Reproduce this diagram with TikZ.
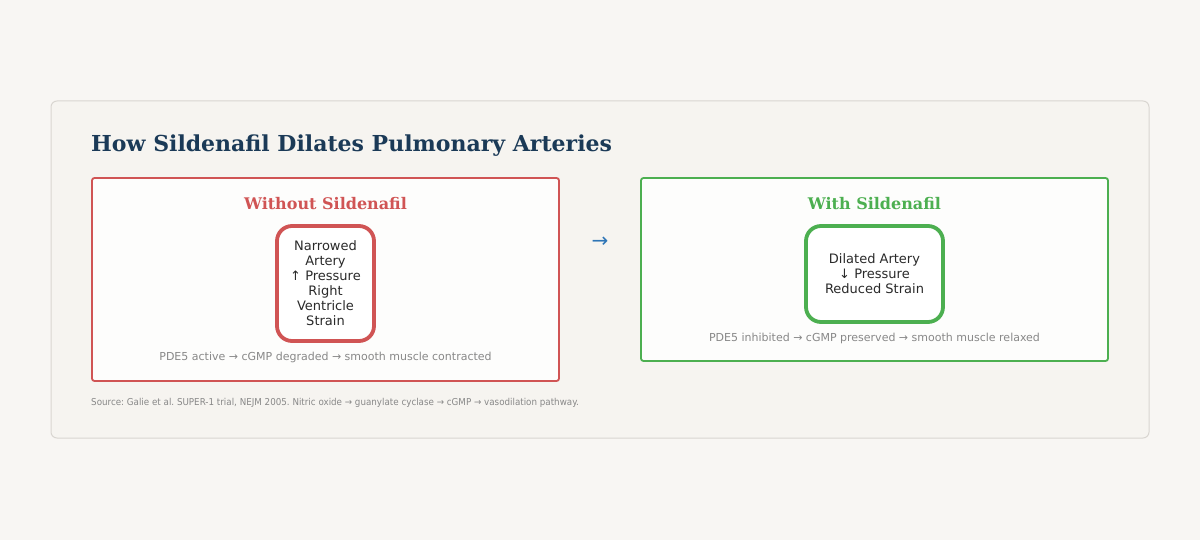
\documentclass[tikz,border=0pt]{standalone}
\usepackage{fontspec}
\setmainfont{DejaVu Sans}
\newfontfamily\titlefont{DejaVu Serif}
\newfontfamily\condfont[FakeStretch=0.92]{DejaVu Sans}
\definecolor{bgc}{HTML}{F8F6F3}
\definecolor{cardc}{HTML}{F6F4F0}
\definecolor{cardline}{HTML}{D9D6D1}
\definecolor{redc}{HTML}{D05454}
\definecolor{greenc}{HTML}{4CAF50}
\definecolor{navy}{HTML}{1B3A57}
\definecolor{txt}{HTML}{2A2A2A}
\definecolor{grayt}{HTML}{888888}
\definecolor{bluec}{HTML}{2E75B6}
\tikzset{
  panel/.style={line width=1.8pt, fill=white, fill opacity=0.85, draw opacity=1, rounded corners=2.5pt},
  innerbox/.style={line width=3.8pt, fill=white, rounded corners=15pt},
  heading/.style={font=\titlefont\bfseries\fontsize{16}{19}\selectfont, anchor=center},
  bodytxt/.style={font=\fontsize{13}{15}\selectfont, text=txt, align=center, anchor=center},
  captxt/.style={font=\fontsize{11}{13}\selectfont, text=grayt, anchor=center},
}
\begin{document}
\begin{tikzpicture}[x=1pt,y=-1pt]
\useasboundingbox (0,0) rectangle (1200,540);
\fill[bgc] (0,0) rectangle (1200,540);
\draw[cardline, fill=cardc, line width=1pt, rounded corners=6pt] (51,101) rectangle (1149,438);
\node[font=\titlefont\bfseries\fontsize{22}{26}\selectfont, text=navy, anchor=base west, inner sep=0pt] (title) at (91,152) {How Sildenafil Dilates Pulmonary Arteries};
% left panel
\draw[panel, draw=redc] (92,178) rectangle (559,381);
\node (lpanel) at (325.5,279.5) [minimum width=467pt, minimum height=203pt] {};
\node[heading, text=redc] (lhead) at (325.5,204) {Without Sildenafil};
\draw[innerbox, draw=redc] (277,226) rectangle (374,341);
\node (lbox) at (325.5,283.5) [minimum width=97pt, minimum height=115pt] {};
\node[bodytxt] (ltext) at (325.5,283.5) {Narrowed\\Artery\\↑ Pressure\\Right\\Ventricle\\Strain};
\node[captxt] (lcap) at (325.5,357) {PDE5 active → cGMP degraded → smooth muscle contracted};
% arrow
\node[font=\fontsize{20}{20}\selectfont, text=bluec] (arr) at (600,242.5) {→};
% right panel
\draw[panel, draw=greenc] (641,178) rectangle (1108,361);
\node (rpanel) at (874.5,269.5) [minimum width=467pt, minimum height=183pt] {};
\node[heading, text=greenc] (rhead) at (874.5,204) {With Sildenafil};
\draw[innerbox, draw=greenc] (806,226) rectangle (943,322);
\node (rbox) at (874.5,274) [minimum width=137pt, minimum height=96pt] {};
\node[bodytxt] (rtext) at (874.5,273.5) {Dilated Artery\\↓ Pressure\\Reduced Strain};
\node[captxt] (rcap) at (874.5,338) {PDE5 inhibited → cGMP preserved → smooth muscle relaxed};
% source
\node[font=\condfont\fontsize{9.5}{11}\selectfont, text=grayt, anchor=west, inner sep=0pt] (src) at (91,403) {\frenchspacing Source: Galie et al. SUPER-1 trial, NEJM 2005. Nitric oxide → guanylate cyclase → cGMP → vasodilation pathway.};
\end{tikzpicture}
\end{document}
